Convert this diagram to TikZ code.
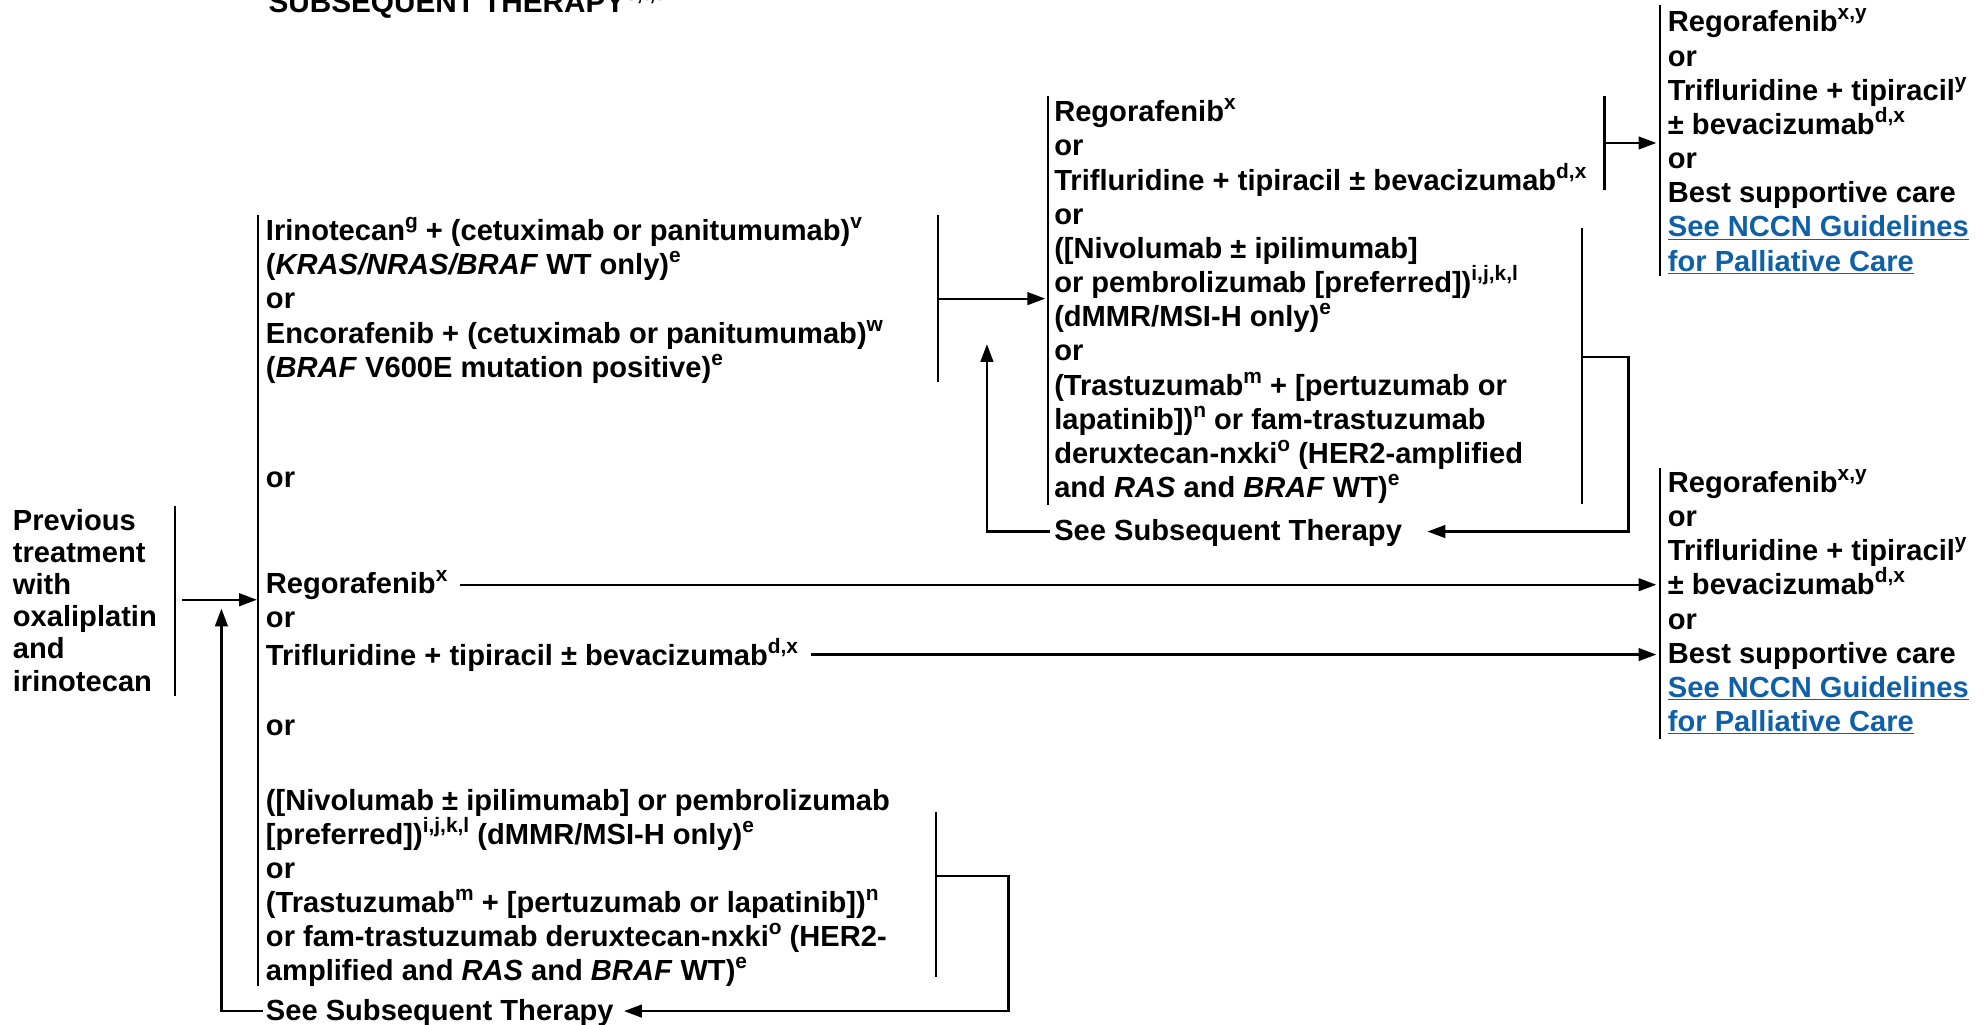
\documentclass[tikz,border=0pt]{standalone}
\usepackage{fontspec}
\setmainfont{Liberation Sans}
\usetikzlibrary{arrows.meta}
\definecolor{linkblue}{RGB}{16,96,168}
\newcommand\spx[1]{\raisebox{9.5pt}{\fontsize{16.5}{16.5}\selectfont #1}}
\newcommand\lnk[1]{{\color{linkblue}\underline{#1}}}
\newcommand\fst{\rule{0pt}{19pt}}
\begin{document}
\begin{tikzpicture}[x=1pt,y=-1pt,
  txt/.style={anchor=north west, inner sep=0pt, align=left, font=\fontsize{23}{27}\selectfont\bfseries},
  ln/.style={line width=1.7pt},
  arr/.style={line width=1.7pt, -{Triangle[length=14pt,width=10pt]}}]
\useasboundingbox (0,0) rectangle (1568,810);

% title (cut at top, as in the reference)
\node[txt, anchor=base west, font=\fontsize{23.5}{28}\selectfont\bfseries] (title) at (212,10) {SUBSEQUENT THERAPY\spx{c,t,u}};

% left node
\node[txt, font=\fontsize{23}{25.4}\selectfont\bfseries] (prev) at (10,400) {\fst Previous\\treatment\\with\\oxaliplatin\\and\\irinotecan};

% first column
\node[txt] (irino) at (210,171) {\fst Irinotecan\spx{g} + (cetuximab or panitumumab)\spx{v}\\(\textit{KRAS/NRAS/BRAF} WT only)\spx{e}\\or\\Encorafenib + (cetuximab or panitumumab)\spx{w}\\(\textit{BRAF} V600E mutation positive)\spx{e}};
\node[txt] (or1) at (210,366) {\fst or};
\node[txt] (rego) at (210,450) {\fst Regorafenib\spx{x}};
\node[txt] (or2) at (210,477) {\fst or};
\node[txt] (trif) at (210,504) {\fst Trifluridine + tipiracil ± bevacizumab\spx{d,x}};
\node[txt] (or3) at (210,562) {\fst or};
\node[txt] (nivo) at (210,621) {\fst ([Nivolumab ± ipilimumab] or pembrolizumab\\{}[preferred])\spx{i,j,k,l} (dMMR/MSI-H only)\spx{e}\\or\\(Trastuzumab\spx{m} + [pertuzumab or lapatinib])\spx{n}\\or fam-trastuzumab deruxtecan-nxki\spx{o} (HER2-\\amplified and \textit{RAS} and \textit{BRAF} WT)\spx{e}};
\node[txt] (sst1) at (210,787) {\fst See Subsequent Therapy};

% middle column
\node[txt] (mid) at (833,77) {\fst Regorafenib\spx{x}\\or\\Trifluridine + tipiracil ± bevacizumab\spx{d,x}\\or\\([Nivolumab ± ipilimumab]\\or pembrolizumab [preferred])\spx{i,j,k,l}\\(dMMR/MSI-H only)\spx{e}\\or\\(Trastuzumab\spx{m} + [pertuzumab or\\lapatinib])\spx{n} or fam-trastuzumab\\deruxtecan-nxki\spx{o} (HER2-amplified\\and \textit{RAS} and \textit{BRAF} WT)\spx{e}};
\node[txt] (sst2) at (833,408) {\fst See Subsequent Therapy};

% right column
\node[txt] (rtop) at (1318,6) {\fst Regorafenib\spx{x,y}\\or\\Trifluridine + tipiracil\spx{y}\\± bevacizumab\spx{d,x}\\or\\Best supportive care\\\lnk{See NCCN Guidelines}\\\lnk{for Palliative Care}};
\node[txt] (rbot) at (1318,370) {\fst Regorafenib\spx{x,y}\\or\\Trifluridine + tipiracil\spx{y}\\± bevacizumab\spx{d,x}\\or\\Best supportive care\\\lnk{See NCCN Guidelines}\\\lnk{for Palliative Care}};

% coordinates
\coordinate (pbT) at (138,400); \coordinate (pbB) at (138,550);
\coordinate (pa1) at (144,474); \coordinate (pa2) at (203,474);
\coordinate (bbT) at (204,170); \coordinate (bbB) at (204,779);
\coordinate (ubT) at (175,481);
\coordinate (ibT) at (741,170); \coordinate (ibB) at (741,302);
\coordinate (ia1) at (741,236); \coordinate (ia2) at (826,236);
\coordinate (mbT) at (828,76); \coordinate (mbB) at (828,399);
\coordinate (muT) at (780,272);
\coordinate (sbT) at (1268,76); \coordinate (sbB) at (1268,150);
\coordinate (sa1) at (1268,113); \coordinate (sa2) at (1309,113);
\coordinate (rtT) at (1312,4); \coordinate (rtB) at (1312,218);
\coordinate (nbT) at (1250,180); \coordinate (nbB) at (1250,398);
\coordinate (nl1) at (1250,282); \coordinate (nl2) at (1287,282);
\coordinate (rbT) at (1312,370); \coordinate (rbB) at (1312,584);
\coordinate (rbx) at (1309,0);
\coordinate (lbT) at (740,642); \coordinate (lbB) at (740,772);
\coordinate (bl1) at (740,692); \coordinate (bl2) at (797,692);

% brackets
\draw[ln] (pbT) -- (pbB);
\draw[ln] (bbT) -- (bbB);
\draw[ln] (ibT) -- (ibB);
\draw[ln] (mbT) -- (mbB);
\draw[ln] (sbT) -- (sbB);
\draw[ln] (rtT) -- (rtB);
\draw[ln] (nbT) -- (nbB);
\draw[ln] (rbT) -- (rbB);
\draw[ln] (lbT) -- (lbB);

% connectors
\draw[arr] (pa1) -- (pa2);
\draw[arr] ([xshift=-2pt]sst1.west) -| (ubT);
\draw[arr] (ia1) -- (ia2);
\draw[arr] ([xshift=-3pt]sst2.west) -| (muT);
\draw[arr] (sa1) -- (sa2);
\draw[arr] (nl1) -- (nl2) |- ([xshift=20pt]sst2.east);
\draw[arr] ([xshift=10pt]rego.east) -- (rego.east -| rbx);
\draw[arr] ([xshift=10pt]trif.east) -- (trif.east -| rbx);
\draw[arr] (bl1) -- (bl2) |- ([xshift=8pt]sst1.east);
\end{tikzpicture}
\end{document}
